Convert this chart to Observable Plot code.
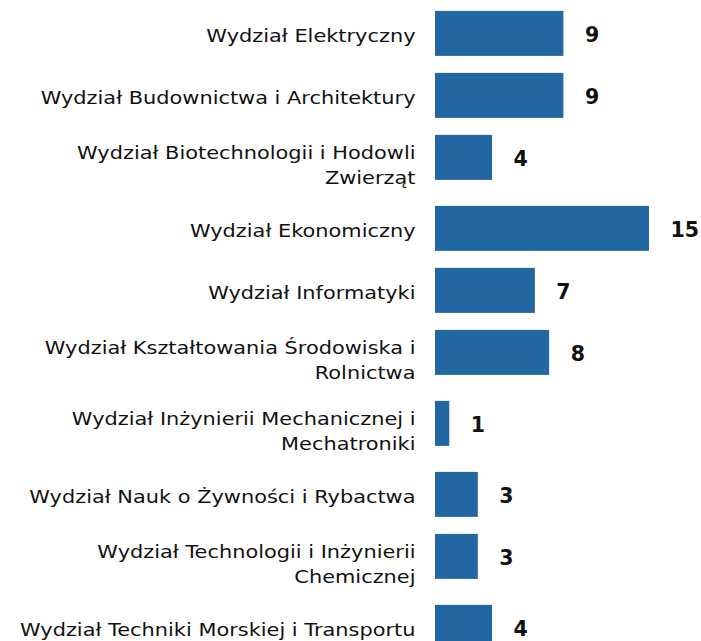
<!DOCTYPE html>
<html><head><meta charset="utf-8">
<script src="https://cdn.jsdelivr.net/npm/d3@7"></script>
<script src="https://cdn.jsdelivr.net/npm/@observablehq/plot@0.6"></script>
<style>body{margin:0;background:#fff}</style>
</head><body><div id="chart"></div>
<script>
const categories = [
  "Wydział Elektryczny",
  "Wydział Budownictwa i Architektury",
  "Wydział Biotechnologii i Hodowli Zwierząt",
  "Wydział Ekonomiczny",
  "Wydział Informatyki",
  "Wydział Kształtowania Środowiska i Rolnictwa",
  "Wydział Inżynierii Mechanicznej i Mechatroniki",
  "Wydział Nauk o Żywności i Rybactwa",
  "Wydział Technologii i Inżynierii Chemicznej",
  "Wydział Techniki Morskiej i Transportu"
];
const tickLabels = [
  "Wydział Elektryczny",
  "Wydział Budownictwa i Architektury",
  "Wydział Biotechnologii i Hodowli\nZwierząt",
  "Wydział Ekonomiczny",
  "Wydział Informatyki",
  "Wydział Kształtowania Środowiska i\nRolnictwa",
  "Wydział Inżynierii Mechanicznej i\nMechatroniki",
  "Wydział Nauk o Żywności i Rybactwa",
  "Wydział Technologii i Inżynierii\nChemicznej",
  "Wydział Techniki Morskiej i Transportu"
];
const values = [9, 9, 4, 15, 7, 8, 1, 3, 3, 4];

// layout: rows following a wrapped (two-line) label get a slightly larger gap
const step = 62;
const wrapGap = 9 / step;
const half = 22.5 / step;
let extra = 0;
const data = categories.map((c, i) => {
  const lines = tickLabels[i].split("\n").length;
  const row = i + extra;
  extra += (lines - 1) * wrapGap;
  return {category: c, label: tickLabels[i], value: values[i], row, lines};
});
const maxRow = d3.max(data, d => d.row);

const chart = Plot.plot({
  width: 701,
  height: 641,
  marginTop: 0, marginBottom: 0, marginLeft: 0, marginRight: 0,
  style: {background: "white", overflow: "hidden"},
  x: {domain: [0, 15], range: [435, 649], axis: null},
  y: {type: "linear", domain: [0, maxRow], range: [33.4, 33.4 + step * maxRow], axis: null},
  marks: [
    Plot.rect(data, {x1: () => 0, x2: "value", y1: d => d.row - half, y2: d => d.row + half, fill: "#2367a2"}),
    Plot.text(data.filter(d => d.lines === 1), {
      x: () => 0, y: "row", text: "label", textAnchor: "end", dx: -20, dy: 2,
      fontFamily: "DejaVu Sans", fontSize: 18.5, fill: "#111", className: "cat-labels"
    }),
    Plot.text(data.filter(d => d.lines > 1), {
      x: () => 0, y: "row", text: "label", textAnchor: "end", dx: -20, dy: 6, lineHeight: 1.35,
      fontFamily: "DejaVu Sans", fontSize: 18.5, fill: "#111", className: "cat-labels"
    }),
    Plot.text(data, {
      x: "value", y: "row", text: d => String(d.value), textAnchor: "start", dx: 21, dy: 2,
      fontFamily: "DejaVu Sans", fontWeight: "bold", fontSize: 20.5, fill: "#111"
    })
  ]
});

// the reference's category font is horizontally wider: stretch the labels a little
d3.select(chart).selectAll(".cat-labels text").each(function() {
  const t = this.getAttribute("transform") || "";
  this.setAttribute("transform", t + " scale(1.13,1)");
});

document.getElementById("chart").appendChild(chart);
</script>
</body></html>
